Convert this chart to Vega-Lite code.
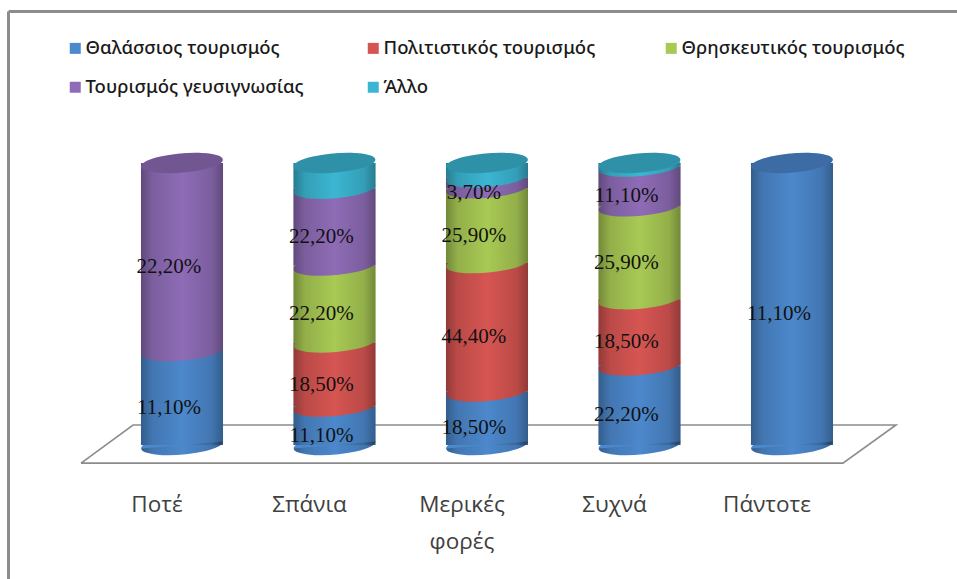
{
"$schema":"https://vega.github.io/schema/vega-lite/v6.json",
"width":949,"height":568,
"autosize":{"type":"none"},
"padding":{"left":8,"top":11,"right":0,"bottom":0},
"background":"white",
"config":{"view":{"stroke":null},"locale":{"number":{"decimal":",","thousands":".","grouping":[3],"currency":["","€"]}}},
"layer":[
{"data":{"values":[
{"depth":-0.662,"level":-0.064,"i":0},{"depth":-0.321,"level":0.071,"i":1},{"depth":4.682,"level":0.071,"i":2},{"depth":4.334,"level":-0.064,"i":3},{"depth":-0.662,"level":-0.064,"i":4}]},
"mark":{"type":"line","stroke":"#8c8c8c","strokeWidth":1.6,"clip":false},
"encoding":{
"x":{"field":"depth","type":"quantitative","scale":{"domain":[-1.141,5.082],"nice":false,"zero":false},"axis":null},
"y":{"field":"level","type":"quantitative","scale":{"domain":[-0.475,1.539],"nice":false,"zero":false},"axis":{"domain":true,"domainColor":"#8c8c8c","domainWidth":3,"ticks":false,"labels":false,"grid":false,"title":null}},
"order":{"field":"i","type":"quantitative"}}},
{"data":{"values":[
{"cat":"Ποτέ","series":"Θαλάσσιος τουρισμός","s":1,"value":0.111},
{"cat":"Ποτέ","series":"Τουρισμός γευσιγνωσίας","s":4,"value":0.222},
{"cat":"Σπάνια","series":"Θαλάσσιος τουρισμός","s":1,"value":0.111},
{"cat":"Σπάνια","series":"Πολιτιστικός τουρισμός","s":2,"value":0.185},
{"cat":"Σπάνια","series":"Θρησκευτικός τουρισμός","s":3,"value":0.222},
{"cat":"Σπάνια","series":"Τουρισμός γευσιγνωσίας","s":4,"value":0.222},
{"cat":"Σπάνια","series":"Άλλο","s":5,"value":0.074},
{"cat":"Μερικές φορές","series":"Θαλάσσιος τουρισμός","s":1,"value":0.185},
{"cat":"Μερικές φορές","series":"Πολιτιστικός τουρισμός","s":2,"value":0.444},
{"cat":"Μερικές φορές","series":"Θρησκευτικός τουρισμός","s":3,"value":0.259},
{"cat":"Μερικές φορές","series":"Τουρισμός γευσιγνωσίας","s":4,"value":0.037},
{"cat":"Μερικές φορές","series":"Άλλο","s":5,"value":0.05},
{"cat":"Συχνά","series":"Θαλάσσιος τουρισμός","s":1,"value":0.222},
{"cat":"Συχνά","series":"Πολιτιστικός τουρισμός","s":2,"value":0.185},
{"cat":"Συχνά","series":"Θρησκευτικός τουρισμός","s":3,"value":0.259},
{"cat":"Συχνά","series":"Τουρισμός γευσιγνωσίας","s":4,"value":0.111},
{"cat":"Συχνά","series":"Άλλο","s":5,"value":0.01},
{"cat":"Πάντοτε","series":"Θαλάσσιος τουρισμός","s":1,"value":0.111}
]},
"transform":[
{"stack":"value","groupby":["cat"],"sort":[{"field":"s","order":"ascending"}],"offset":"normalize","as":["y0","y1"]},
{"calculate":"(datum.y0+datum.y1)/2","as":"mid"}
],
"encoding":{
"x":{"field":"cat","type":"nominal","sort":null,"scale":{"type":"band","domain":["Ποτέ","Σπάνια","Μερικές φορές","Συχνά","Πάντοτε"],"paddingInner":0.462,"paddingOuter":0.8425,"align":0.5175},"axis":{"orient":"top","domain":true,"domainColor":"#8c8c8c","domainWidth":3,"ticks":false,"labels":false,"grid":false,"title":null}}
},
"layer":[
{"mark":{"type":"bar","strokeWidth":0},
"encoding":{"y":{"field":"y0","type":"quantitative"},"y2":{"field":"y1"},
"color":{"field":"series","type":"nominal","scale":{"domain":["Θαλάσσιος τουρισμός","Πολιτιστικός τουρισμός","Θρησκευτικός τουρισμός","Τουρισμός γευσιγνωσίας","Άλλο"],"range":["#4c88cc","#d65552","#a8c954","#8e6cb6","#3bb6d2"]},
"legend":{"orient":"none","legendX":58,"legendY":28,"direction":"horizontal","columns":3,"gridAlign":"all","title":null,"symbolType":"square","symbolSize":121,"symbolStrokeWidth":0,"labelFont":"Noto Sans","labelFontSize":18.5,"labelFontWeight":500,"labelColor":"#1a1a1a","labelLimit":400,"labelOffset":1,"columnPadding":55,"rowPadding":20,"padding":0}}}},
{"mark":{"type":"point","filled":true,"opacity":1,"strokeWidth":0,"shape":"M-0.996,0.087 A1,0.23 -5 1 1 0.996,-0.087 A1,0.23 -5 1 1 -0.996,0.087 Z","size":6724},
"encoding":{"y":{"field":"y0","type":"quantitative"},"color":{"field":"series","type":"nominal","legend":null}}},
{"transform":[{"filter":"datum.y0 === 0"}],
"mark":{"type":"bar","strokeWidth":0,"color":{"gradient":"linear","x1":0,"y1":0,"x2":1,"y2":0,"stops":[{"offset":0,"color":"rgba(0,0,0,0.32)"},{"offset":0.14,"color":"rgba(0,0,0,0.13)"},{"offset":0.5,"color":"rgba(0,0,0,0)"},{"offset":0.86,"color":"rgba(0,0,0,0.13)"},{"offset":1,"color":"rgba(0,0,0,0.32)"}]}},
"encoding":{"y":{"datum":0},"y2":{"datum":1}}},
{"transform":[{"filter":"datum.y0 === 0"}],
"mark":{"type":"point","filled":true,"opacity":1,"strokeWidth":0,"shape":"M-0.996,0.087 A1,0.23 -5 0 0 0.996,-0.087 Z","size":6724,"color":{"gradient":"linear","x1":0,"y1":0,"x2":1,"y2":0,"stops":[{"offset":0,"color":"rgba(0,0,0,0.32)"},{"offset":0.14,"color":"rgba(0,0,0,0.13)"},{"offset":0.5,"color":"rgba(0,0,0,0)"},{"offset":0.86,"color":"rgba(0,0,0,0.13)"},{"offset":1,"color":"rgba(0,0,0,0.32)"}]}},
"encoding":{"y":{"datum":0}}},
{"transform":[{"filter":"datum.y1 > 0.9999"}],
"mark":{"type":"point","filled":true,"opacity":1,"strokeWidth":0,"shape":"M-0.996,0.087 A1,0.23 -5 1 1 0.996,-0.087 A1,0.23 -5 1 1 -0.996,0.087 Z","size":6724},
"encoding":{"y":{"field":"y1","type":"quantitative"},"color":{"field":"series","type":"nominal","legend":null}}},
{"transform":[{"filter":"datum.y1 > 0.9999"}],
"mark":{"type":"point","filled":true,"color":"#000000","opacity":0.2,"strokeWidth":0,"shape":"M-0.996,0.087 A1,0.23 -5 1 1 0.996,-0.087 A1,0.23 -5 1 1 -0.996,0.087 Z","size":6724},
"encoding":{"y":{"field":"y1","type":"quantitative"}}},
{"transform":[{"filter":"datum.series !== 'Άλλο'"}],
"mark":{"type":"text","font":"Liberation Serif","fontSize":21,"color":"#111111","dx":-13,"dy":10,"align":"center","baseline":"middle"},
"encoding":{"y":{"field":"mid","type":"quantitative"},"text":{"field":"value","type":"quantitative","format":".2%"}}}
]
},
{"data":{"values":[
{"cat":"Ποτέ","name":"Ποτέ","level":-0.238},
{"cat":"Σπάνια","name":"Σπάνια","level":-0.238},
{"cat":"Μερικές φορές","name":"Μερικές\nφορές","level":-0.238},
{"cat":"Συχνά","name":"Συχνά","level":-0.238},
{"cat":"Πάντοτε","name":"Πάντοτε","level":-0.238}]},
"mark":{"type":"text","font":"Open Sans","fontSize":22.5,"color":"#404040","dx":-25,"align":"center","baseline":"alphabetic","lineBreak":"\n","lineHeight":37},
"encoding":{
"x":{"field":"cat","type":"nominal","sort":null,"scale":{"type":"band","domain":["Ποτέ","Σπάνια","Μερικές φορές","Συχνά","Πάντοτε"],"paddingInner":0.462,"paddingOuter":0.8425,"align":0.5175},"axis":null},
"y":{"field":"level","type":"quantitative"},
"text":{"field":"name"}}}
],
"resolve":{"scale":{"x":"independent"}}
}
